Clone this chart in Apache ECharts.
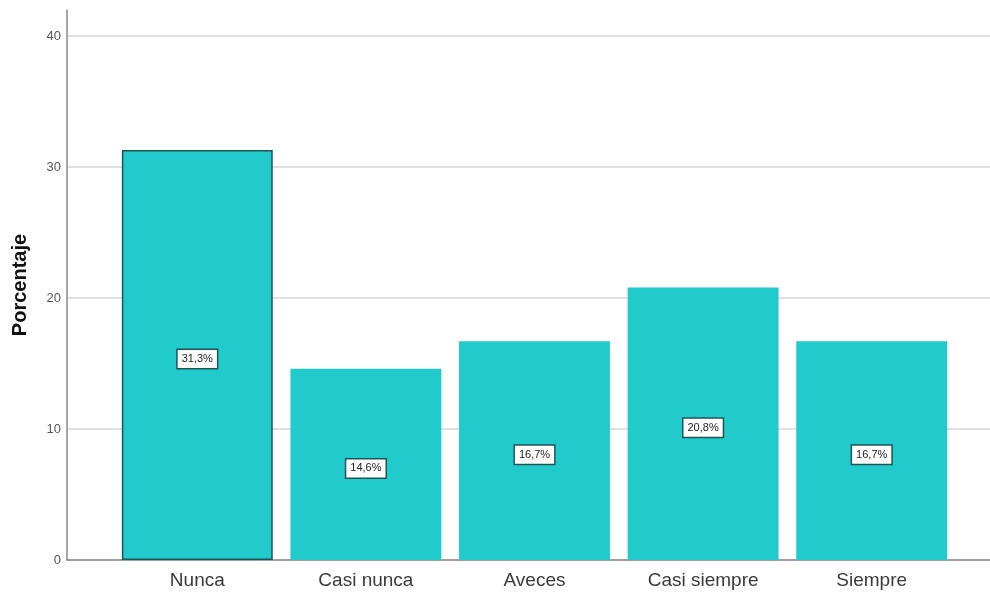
<!DOCTYPE html>
<html>
<head>
<meta charset="utf-8">
<script src="https://cdn.jsdelivr.net/npm/echarts@6/dist/echarts.min.js"></script>
<style>html,body{margin:0;padding:0;background:#fff}#c{width:990px;height:595px}</style>
</head>
<body>
<div id="c"></div>
<script>
const categories = ['Nunca', 'Casi nunca', 'Aveces', 'Casi siempre', 'Siempre'];
const values = [31.3, 14.6, 16.7, 20.8, 16.7];
const yTicks = [0, 10, 20, 30, 40];
const yTitle = 'Porcentaje';

const font = '"Liberation Sans", Arial, sans-serif';
const chart = echarts.init(document.getElementById('c'));
chart.setOption({
  animation: false,
  textStyle: { fontFamily: font },
  grid: [
    { left: 67, right: 0, top: 10, bottom: 35, outerBoundsMode: 'none', containLabel: false },
    { left: 113, right: 34, top: 10, bottom: 35, outerBoundsMode: 'none', containLabel: false }
  ],
  xAxis: [
    { gridIndex: 0, type: 'value', min: 0, max: 1, axisLine: { show: true, onZero: false, lineStyle: { color: '#8a8a8a', width: 1.5 } },
      axisTick: { show: false }, axisLabel: { show: false }, splitLine: { show: false } },
    { gridIndex: 1, type: 'category', data: categories, axisLine: { show: false }, axisTick: { show: false },
      axisLabel: { color: '#3a3a3a', fontSize: 19, margin: 11, fontFamily: font } }
  ],
  yAxis: [
    { gridIndex: 0, type: 'value', min: yTicks[0], max: 42, interval: 10,
      name: yTitle, nameLocation: 'middle', nameGap: 37,
      nameTextStyle: { fontSize: 20, fontWeight: 'bold', color: '#111', fontFamily: font },
      axisLine: { show: true, lineStyle: { color: '#8a8a8a', width: 1.5 } },
      axisTick: { show: false },
      axisLabel: { color: '#555', fontSize: 13, margin: 6, showMaxLabel: false,
        formatter: v => yTicks.includes(v) ? String(v) : '' },
      splitLine: { show: true, showMaxLine: false, lineStyle: { color: '#d6d6d6', width: 1.5 } } },
    { gridIndex: 1, type: 'value', min: yTicks[0], max: 42, show: false, splitLine: { show: false } }
  ],
  series: [{
    type: 'bar', xAxisIndex: 1, yAxisIndex: 1,
    barCategoryGap: '10.5%',
    data: values.map((v, i) => i === 0
      ? { value: v, itemStyle: { borderColor: '#1f5556', borderWidth: 1.5 } }
      : { value: v }),
    itemStyle: { color: '#21CBCB' },
    label: {
      show: true, position: 'inside', offset: [0, 4],
      formatter: p => p.value.toFixed(1).replace('.', ',') + '%',
      color: '#222', fontSize: 11, fontFamily: font,
      backgroundColor: '#fff', borderColor: '#1f5556', borderWidth: 1.5,
      padding: [4, 4, 3, 4]
    }
  }]
});
</script>
</body>
</html>
